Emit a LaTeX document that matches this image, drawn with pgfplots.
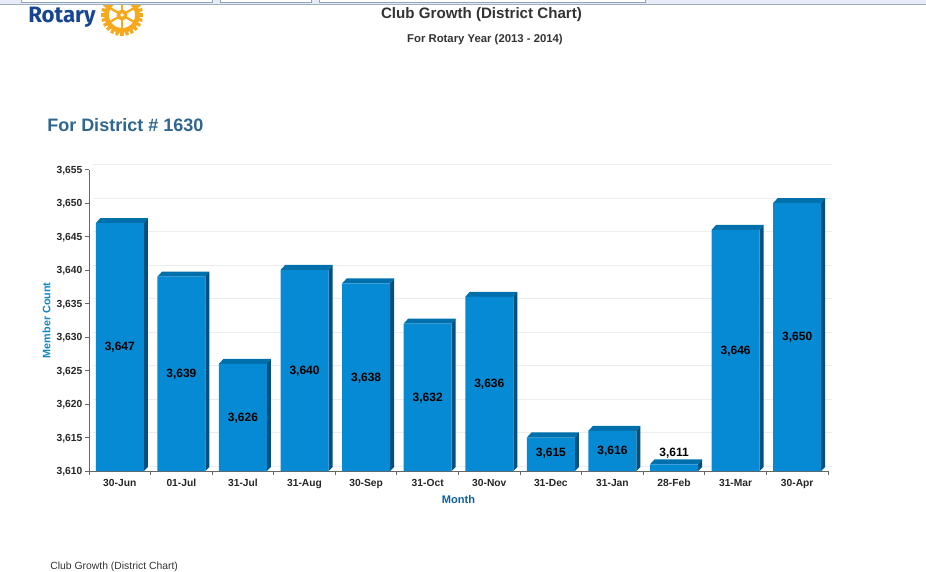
\documentclass[border=0pt]{standalone}
\usepackage{fontspec}
\setmainfont{Liberation Sans}
\newfontfamily\logofont{Fira Sans}
\usepackage{pgfplots}
\pgfplotsset{compat=1.18}
\usepackage{pgfplotstable}
\definecolor{front}{HTML}{058AD3}
\definecolor{topc}{HTML}{0070AC}
\definecolor{sidec}{HTML}{00507F}
\definecolor{axisc}{HTML}{666666}
\definecolor{gridc}{HTML}{EDEDED}
\definecolor{distc}{HTML}{2F6690}
\definecolor{ylab}{HTML}{0F87C8}
\definecolor{xlab}{HTML}{0D5F9E}
\definecolor{rotblue}{HTML}{17458F}
\definecolor{rotgold}{HTML}{F7A81B}
\definecolor{txt}{HTML}{333333}
\definecolor{strip}{HTML}{E6ECF7}
\definecolor{stripline}{HTML}{9FB0BD}
\definecolor{boxline}{HTML}{8EA4B8}
\pgfplotstableread{
x val
0 3647
1 3639
2 3626
3 3640
4 3638
5 3632
6 3636
7 3615
8 3616
9 3611
10 3646
11 3650
}\barsdata
\pgfplotstableread{
x mid val
0 3628.4 3647
1 3624.4 3639
2 3617.9 3626
3 3624.9 3640
4 3623.9 3638
5 3620.9 3632
6 3622.9 3636
7 3612.6 3615
8 3612.9 3616
9 3612.6 3611
10 3627.9 3646
11 3629.9 3650
}\labeldata
\newcommand\threeD[2]{%
  \pgfmathsetmacro\xa{#1-0.39}%
  \pgfmathsetmacro\xb{#1+0.39}%
  \pgfmathsetmacro\xc{#1+0.39+0.065}%
  \pgfmathsetmacro\xd{#1-0.39+0.075}%
  \pgfmathsetmacro\yt{#2+0.75}%
  \addplot[fill=topc,draw=none,forget plot] coordinates {(\xa,#2) (\xb,#2) (\xc,\yt) (\xd,\yt)} -- cycle;
  \addplot[fill=sidec,draw=none,forget plot] coordinates {(\xb,3610) (\xc,3610.6) (\xc,\yt) (\xb,#2)} -- cycle;
}
\begin{document}
\begin{tikzpicture}
\useasboundingbox (0,0) rectangle (694.5pt,429pt);
\clip (0,0) rectangle (694.5pt,429pt);
\begin{axis}[
  at={(66.75pt,75.75pt)}, anchor=south west,
  scale only axis, width=554.25pt, height=226.1pt,
  xmin=-0.5, xmax=11.5, ymin=3610, ymax=3655,
  clip=false,
  axis lines*=left,
  axis line style={axisc,-,line width=0.7pt},
  tick style={axisc,line width=0.7pt},
  tick align=outside,
  major tick length=3pt,
  minor tick length=3pt,
  xtick={0,...,11},
  major x tick style={draw=none},
  minor xtick={-0.5,0.5,...,11.5},
  xticklabels={30-Jun,01-Jul,31-Jul,31-Aug,30-Sep,31-Oct,30-Nov,31-Dec,31-Jan,28-Feb,31-Mar,30-Apr},
  x tick label style={yshift=0.8pt,text height=6pt,text depth=1.5pt},
  y tick label style={xshift=1.5pt,yshift=-0.8pt},
  ytick={3610,3615,...,3655},
  ymajorgrids,
  grid style={gridc,line width=0.7pt,xshift=3pt,yshift=3.7pt},
  tick label style={font=\fontsize{7.7}{9}\selectfont\bfseries,black!85},
  /pgf/number format/assume math mode=true,
  /pgf/number format/1000 sep={,},
  xlabel={Month}, ylabel={Member Count},
  every axis x label/.style={at={(axis description cs:0.5,-0.096)},anchor=center,
    font=\fontsize{8.3}{10}\selectfont\bfseries,text=xlab},
  every axis y label/.style={at={(axis description cs:-0.0575,0.5)},rotate=90,anchor=center,
    font=\fontsize{8.1}{10}\selectfont\bfseries,text=ylab},
]
\threeD{0}{3647}
\threeD{1}{3639}
\threeD{2}{3626}
\threeD{3}{3640}
\threeD{4}{3638}
\threeD{5}{3632}
\threeD{6}{3636}
\threeD{7}{3615}
\threeD{8}{3616}
\threeD{9}{3611}
\threeD{10}{3646}
\threeD{11}{3650}
\addplot[ybar,bar width=36pt,fill=front,draw=none,bar shift=0pt] table[x=x,y=val] {\barsdata};
\addplot[only marks,mark=none,
  point meta=explicit,
  nodes near coords,
  nodes near coords style={anchor=center,inner sep=0pt,text=black,
    font=\fontsize{9}{10}\selectfont\bfseries,
    /pgf/number format/.cd,1000 sep={,},assume math mode=true,fixed,precision=0},
] table[x=x,y=mid,meta=val] {\labeldata};
\end{axis}
\begin{scope}[yshift=429pt,x=0.75pt,y=-0.75pt]
  % logo wheel
  \begin{scope}[shift={(122,15)}]
    \foreach \a in {0,15,...,345}
      \draw[rotgold,line width=2.4pt] (\a:16) -- (\a:21);
    \draw[rotgold,line width=3.6pt] (0,0) circle[radius=15.5];
    \foreach \a in {30,90,...,330}
      \draw[rotgold,line width=1.7pt] (0,0) -- (\a:14);
    \fill[rotgold] (0,0) circle[radius=5.5];
    \fill[white] (0,0) circle[radius=1.8];
  \end{scope}
  \node[anchor=base west,inner sep=0pt,text=rotblue,font=\logofont\bfseries\fontsize{16.7}{20}\selectfont] at (28,23) {Rotary};
  % browser strip
  \fill[strip] (0,0) rectangle (926,4.5);
  \draw[stripline,line width=0.7pt] (0,4.8) -- (926,4.8);
  \foreach \a/\b in {21/212,220/311,319/645}
    \filldraw[fill=white,draw=boxline,line width=0.5pt] (\a,-2) rectangle (\b,2.8);
  % titles
  \node[inner sep=0pt,text=txt,font=\bfseries\fontsize{11.35}{13}\selectfont] at (481.5,15) {Club Growth (District Chart)};
  \node[inner sep=0pt,text=txt,font=\bfseries\fontsize{8.5}{10}\selectfont] at (485,40) {For Rotary Year (2013 - 2014)};
  \node[anchor=west,inner sep=0pt,text=distc,font=\bfseries\fontsize{13.5}{15}\selectfont] at (47,125) {For District \# 1630};
  \node[anchor=west,inner sep=0pt,text=txt,font=\fontsize{7.8}{9}\selectfont] at (50,566.5) {Club Growth (District Chart)};
\end{scope}
\end{tikzpicture}
\end{document}
